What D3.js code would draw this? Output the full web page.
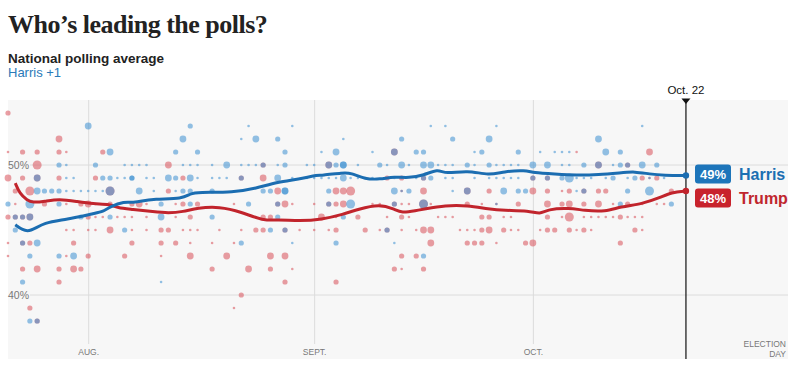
<!DOCTYPE html>
<html>
<head>
<meta charset="utf-8">
<script src="https://cdn.jsdelivr.net/npm/d3@7"></script>
<style>
  body { margin: 0; background: #fff; }
  text { font-family: "Liberation Sans", Arial, sans-serif; }
</style>
</head>
<body>
<svg></svg>
<script>
// days counted from July 21, 2024
const startDay = Date.UTC(2024, 6, 21);
const endDay = Date.UTC(2024, 10, 5);
const latestDay = 93; // Oct. 22

const monthTicks = [Date.UTC(2024, 7, 1), Date.UTC(2024, 8, 1), Date.UTC(2024, 9, 1)];
const monthLabels = ['AUG.', 'SEPT.', 'OCT.'];
const pctTicks = [50, 40];

// polls: [day, pct, weight] weight 0 tiny .. 3 large
const harrisPolls = [
  [11,53,2],[25,53,1],[24,52,2],[14,51,2],[23,51,1],[26,51,1],
  [7,50,1],[8,50,0],[12,50,1],[16,50,0],[17,50,0],[18,50,0],[19,50,0],[24,50,0],[25,50,0],[26,50,0],
  [4,49,2],[8,49,0],[9,49,0],[13,49,1],[14,49,1],[15,49,0],[16,49,0],[17,49,1],[17,49,1],[19,49,0],[20,49,0],[22,49,2],[23,49,1],[25,49,2],[26,49,0],
  [4,48,2],[5,48,1],[6,48,1],[7,48,1],[8,48,0],[9,48,0],[10,48,0],[11,48,0],[12,48,0],[13,48,0],[14,48,3],[18,48,2],[20,48,0],[23,48,0],[24,48,1],[25,48,1],
  [0,47,1],[3,47,3],[7,47,1],[21,47,1],[25,47,1],
  [1,46,1],[2,46,1],[3,46,2],[10,46,1],[14,46,1],[21,46,2],
  [1,45,1],[16,45,1],[2,44,1],[4,44,2],[3,43,1],[7,43,1],[9,43,2],[2,41,1],[21,41,0],[3,38,1],[4,38,1],
  [33,53,0],[39,53,0],[32,52,0],[34,52,2],[37,52,1],[46,52,0],[54,52,1],
  [38,51,1],[43,51,0],[45,51,2],[50,51,0],[53,51,2],[56,51,1],
  [28,50,0],[30,50,2],[32,50,0],[33,50,0],[34,50,0],[35,50,1],[37,50,0],[38,50,1],[41,50,0],[42,50,0],[44,50,2],[45,50,1],[46,50,2],[46,50,2],[48,50,0],[51,50,1],[52,50,0],[54,50,2],[55,50,0],
  [28,49,0],[29,49,0],[30,49,0],[32,49,1],[37,49,2],[39,49,0],[41,49,0],[42,49,0],[43,49,0],[44,49,0],[45,49,0],[46,49,2],[47,49,0],[48,49,0],[49,49,0],[50,49,0],[53,49,0],[56,49,0],
  [28,48,1],[35,48,1],[36,48,1],[38,48,2],[38,48,2],[44,48,1],[53,48,2],[54,48,0],[55,48,1],
  [33,47,1],[37,47,1],[44,47,1],[47,47,3],[53,47,1],
  [28,46,1],[37,46,1],[46,46,1],[36,45,1],[38,45,1],[52,45,1],
  [32,44,1],[39,44,0],[45,44,1],[53,44,0],[57,43,1],
  [58,53,0],[60,53,0],[67,53,0],[61,52,1],[66,52,2],[81,52,2],
  [57,51,1],[64,51,0],[65,51,1],[70,51,1],[73,51,0],[75,51,0],[76,51,0],[77,51,0],[82,51,2],
  [57,50,2],[58,50,2],[59,50,0],[60,50,0],[61,50,0],[63,50,1],[64,50,0],[66,50,1],[67,50,0],[68,50,0],[69,50,0],[70,50,0],[72,50,2],[74,50,2],[76,50,0],[77,50,0],[79,50,1],[81,50,2],[83,50,0],
  [54,49,0],[57,49,1],[58,49,1],[60,49,0],[61,49,0],[64,49,0],[66,49,0],[67,49,0],[68,49,0],[69,49,0],[70,49,0],[72,49,1],[74,49,1],[76,49,1],[77,49,3],[78,49,0],[79,49,0],[80,49,0],[82,49,0],[83,49,1],
  [61,48,0],[63,48,2],[68,48,2],[70,48,1],[71,48,1],[78,48,0],[79,48,1],[57,47,3],[67,47,0],
  [87,53,0],[84,51,1],[84,50,1],[85,50,1],[87,50,2],[89,50,1],
  [85,49,0],[86,49,1],[88,49,0],[90,49,0],[85,48,1],[88,48,3],[84,47,1],[91,47,1]
];

const trumpPolls = [
  [0,54,1],[7,52,2],[0,51,0],[2,51,1],[4,51,1],[7,51,1],[8,51,0],[13,51,1],
  [4,50,3],[22,50,2],
  [0,49,2],[2,49,1],[4,49,2],[7,49,1],[12,49,1],[24,49,1],
  [1,48,1],[3,48,3],[14,48,3],[22,48,1],
  [1,47,0],[5,47,1],[8,47,0],[10,47,1],[11,47,2],[12,47,0],[14,47,1],[15,47,0],[17,47,1],[18,47,2],[19,47,0],[23,47,0],[24,47,1],[26,47,1],
  [0,46,1],[1,46,1],[2,46,1],[3,46,2],[11,46,1],[12,46,0],[13,46,0],[15,46,0],[16,46,0],[17,46,0],[19,46,0],[23,46,0],[25,46,1],
  [8,45,0],[9,45,0],[11,45,0],[12,45,0],[14,45,2],[17,45,0],[19,45,0],[21,45,1],[22,45,1],[24,45,0],[25,45,0],
  [0,44,0],[2,44,1],[3,44,1],[9,44,1],[17,44,1],[21,44,1],[23,44,1],[25,44,0],
  [0,43,0],[8,43,0],[11,43,1],[16,43,1],[21,43,0],[25,43,2],
  [2,42,1],[4,42,2],[7,42,1],[9,42,2],[10,42,1],[7,41,1],[3,39,1],[4,38,1],
  [53,51,2],[35,50,1],[44,50,2],[32,49,1],[35,49,2],[52,49,1],[54,49,1],
  [37,48,2],[45,48,2],[46,48,2],[47,48,3],
  [31,47,0],[37,47,1],[38,47,2],[39,47,0],[42,47,0],[44,47,1],[45,47,1],[46,47,2],[50,47,0],[51,47,0],[53,47,1],[55,47,0],
  [34,46,0],[35,46,1],[36,46,1],[43,46,2],[45,46,0],[48,46,1],[52,46,0],[55,46,0],
  [26,45,0],[29,45,0],[32,45,0],[34,45,1],[35,45,1],[38,45,1],[40,45,0],[42,45,0],[44,45,0],[45,45,1],[49,45,1],[51,45,0],[52,45,1],[54,45,0],[56,45,0],
  [28,44,0],[31,44,0],[58,44,2],[63,44,1],[64,44,1],[65,44,1],[67,44,0],[71,44,1],[72,44,2],
  [30,43,2],[36,43,2],[38,43,2],[54,43,1],[56,43,1],
  [28,42,1],[33,42,2],[36,42,1],[39,42,0],[53,42,1],[54,42,0],[57,42,1],
  [38,41,1],[45,41,1],[32,40,1],[31,39,0],
  [78,51,0],[81,50,2],[57,49,1],[72,49,1],[74,49,1],
  [54,48,0],[57,48,2],[63,48,2],[66,48,1],[72,48,2],[74,48,1],[76,48,0],[77,48,1],[79,48,1],[81,48,1],[82,48,1],
  [54,47,0],[57,47,3],[58,47,0],[63,47,1],[65,47,0],[67,47,0],[70,47,1],[74,47,2],[76,47,1],[77,47,2],[79,47,1],[81,47,2],[83,47,0],
  [54,46,1],[59,46,0],[60,46,0],[61,46,0],[65,46,1],[66,46,1],[68,46,0],[69,46,0],[74,46,1],[76,46,0],[77,46,3],[79,46,0],[80,46,0],[83,46,0],
  [57,45,2],[58,45,2],[62,45,0],[63,45,0],[64,45,0],[65,45,1],[66,45,2],[68,45,1],[69,45,0],[70,45,0],[73,45,0],[74,45,1],[75,45,1],[77,45,1],[78,45,0],[79,45,1],[80,45,0],
  [88,51,2],[85,50,1],[87,49,1],[88,49,0],[89,49,1],[91,48,1],
  [85,47,1],[87,47,0],[89,47,0],[90,47,0],
  [81,46,0],[82,46,0],[84,46,1],[85,46,0],[86,46,0],[87,46,0],[86,45,1],[87,45,0],[84,44,1]
];

// polling averages: [day, pct]
const harrisAvg = [
  [1,45.4],[2,45.0],[3,44.85],[5,45.6],[8,45.8],[12,46.3],[13,46.4],[14,46.8],[16,47.2],[17,47.1],[18,47.2],
  [20,47.4],[24,47.4],[25,47.8],[26,47.9],[31,47.9],[34,48.2],[37,48.7],[40,48.9],[42,49.2],[43,49.2],
  [46,49.4],[47,49.4],[49,48.9],[51,48.9],[53,49.1],[55,49.0],[57,49.2],[59,49.7],[60,49.3],[63,49.6],
  [66,49.2],[68,49.5],[71,49.6],[72,49.4],[75,49.3],[78,49.2],[81,49.25],[84,49.4],[86,49.5],[88,49.3],
  [90,49.2],[93,49.2]
];
const trumpAvg = [
  [1,48.6],[1.6,47.8],[2.6,47.3],[3.4,47.1],[5,47.2],[7,47.4],[9.4,47.2],[11.7,47.0],[14,47.0],[15,46.7],
  [17,46.6],[20,46.4],[22,46.3],[24,46.4],[26,46.7],[29,46.8],[32,46.4],[35,45.7],[37,45.8],[40,45.7],
  [43,45.8],[46,46.2],[48,46.6],[51,47.0],[53,46.6],[54,46.3],[56,46.5],[57,46.6],[60,46.9],[63,46.9],
  [66,46.6],[68,46.5],[71.5,46.5],[73,46.2],[74,46.6],[77,46.7],[79,46.5],[82,46.4],[84,46.8],[87,47.0],
  [89.5,47.5],[91,47.9],[93,48.0]
];
const harrisLatest = '49%';
const trumpLatest = '48%';

const svg = d3.select('svg')
  .attr('width', 800)
  .attr('height', 375);

const dayDate = d => new Date(startDay + d * 864e5);

const render = () => {
  const plot = { left: 8, right: 788, top: 100, bottom: 359 },
    radius = [1.3, 2.6, 3.4, 4.5],
    blue = '#3d8fd1', red = '#d9505a',
    blueLine = '#1b6db1', redLine = '#c1242c';

  const xScale = d3.scaleUtc()
    .domain([startDay, endDay])
    .range([plot.left, plot.right]);

  const yScale = d3.scaleLinear()
    .domain([35, 55])
    .range([360, 100]);

  // titles
  svg.append('text')
    .attr('x', 8).attr('y', 33)
    .style('font-family', '"Liberation Serif", "Times New Roman", serif')
    .style('font-weight', 'bold')
    .style('font-size', '26px')
    .style('letter-spacing', '-0.5px')
    .attr('fill', '#222')
    .text('Who’s leading the polls?');

  svg.append('text')
    .attr('x', 8).attr('y', 63)
    .style('font-weight', 'bold')
    .style('font-size', '13.5px')
    .attr('fill', '#222')
    .text('National polling average');

  svg.append('text')
    .attr('x', 8).attr('y', 77)
    .style('font-size', '13px')
    .attr('fill', '#2b7ab8')
    .text('Harris +1');

  svg.append('rect')
    .attr('x', plot.left).attr('y', plot.top)
    .attr('width', plot.right - plot.left)
    .attr('height', plot.bottom - plot.top)
    .attr('fill', '#f7f7f7');

  // horizontal grid
  svg.append('g').selectAll('line').data(pctTicks).join('line')
    .attr('x1', 30).attr('x2', plot.right)
    .attr('y1', d => yScale(d)).attr('y2', d => yScale(d))
    .attr('stroke', '#dcdcdc');

  const yAxis = d3.axisRight(yScale)
    .tickValues(pctTicks)
    .tickSize(0)
    .tickPadding(0)
    .tickFormat(d => d + '%');

  const yAxisG = svg.append('g')
    .attr('transform', `translate(${plot.left},0)`)
    .call(yAxis);
  yAxisG.select('.domain').remove();
  yAxisG.selectAll('text')
    .attr('fill', '#777')
    .style('font-size', '10.5px');

  const xAxis = d3.axisBottom(xScale)
    .tickValues(monthTicks)
    .tickSize(-(344 - plot.top))
    .tickPadding(5)
    .tickFormat((d, i) => monthLabels[i]);

  const xAxisG = svg.append('g')
    .attr('transform', 'translate(0,344)')
    .call(xAxis);
  xAxisG.select('.domain').remove();
  xAxisG.selectAll('line').attr('stroke', '#dcdcdc');
  xAxisG.selectAll('text')
    .attr('fill', '#777')
    .style('font-size', '8.5px');

  svg.append('text')
    .attr('x', 786).attr('y', 347)
    .attr('text-anchor', 'end')
    .attr('fill', '#777')
    .style('font-size', '8.5px')
    .selectAll('tspan').data(['ELECTION', 'DAY']).join('tspan')
    .attr('x', 786)
    .attr('dy', (d, i) => i ? 10 : 0)
    .text(d => d);

  // poll dots
  const drawDots = (data, color) => svg.append('g')
    .selectAll('circle').data(data).join('circle')
    .attr('cx', d => xScale(dayDate(d[0])))
    .attr('cy', d => yScale(d[1]))
    .attr('r', d => radius[d[2]])
    .attr('fill', color)
    .attr('fill-opacity', 0.55);

  drawDots(trumpPolls, red);
  drawDots(harrisPolls, blue);

  // latest marker
  const xLatest = xScale(dayDate(latestDay));
  svg.append('line')
    .attr('x1', xLatest).attr('x2', xLatest)
    .attr('y1', plot.top).attr('y2', plot.bottom)
    .attr('stroke', '#111').attr('stroke-width', 1.2);
  svg.append('path')
    .attr('d', `M${xLatest - 4.5},98.5 L${xLatest + 4.5},98.5 L${xLatest},104 Z`)
    .attr('fill', '#111');
  svg.append('text')
    .attr('x', xLatest).attr('y', 94)
    .attr('text-anchor', 'middle')
    .style('font-size', '11.5px')
    .attr('fill', '#111')
    .text('Oct. 22');

  // averages
  const lineGenerator = d3.line()
    .x(d => xScale(dayDate(d[0])))
    .y(d => yScale(d[1]))
    .curve(d3.curveBasis);

  [[trumpAvg, redLine], [harrisAvg, blueLine]].forEach(([data, color]) => {
    svg.append('path')
      .attr('d', lineGenerator(data))
      .attr('fill', 'none')
      .attr('stroke', color)
      .attr('stroke-width', 3)
      .attr('stroke-linejoin', 'round');
    const last = data[data.length - 1];
    svg.append('circle')
      .attr('cx', xScale(dayDate(last[0])))
      .attr('cy', yScale(last[1]))
      .attr('r', 3.2)
      .attr('fill', color);
  });

  // end labels
  let hY = yScale(harrisAvg[harrisAvg.length - 1][1]) - 1.5;
  let tY = Math.max(yScale(trumpAvg[trumpAvg.length - 1][1]), hY + 24);
  const labels = [
    { y: hY, pct: harrisLatest, name: 'Harris', box: '#1d75ba', color: '#1b6fb2' },
    { y: tY, pct: trumpLatest, name: 'Trump', box: '#c8232c', color: '#c0262e' }
  ];
  const lg = svg.append('g').selectAll('g').data(labels).join('g')
    .attr('transform', d => `translate(695,${d.y})`);
  lg.append('rect')
    .attr('x', 0).attr('y', -9.5)
    .attr('width', 36).attr('height', 19)
    .attr('rx', 3)
    .attr('fill', d => d.box);
  lg.append('text')
    .attr('x', 18).attr('y', 5)
    .attr('text-anchor', 'middle')
    .attr('fill', '#fff')
    .style('font-weight', 'bold')
    .style('font-size', '13px')
    .text(d => d.pct);
  lg.append('text')
    .attr('x', 44).attr('y', 6)
    .attr('fill', d => d.color)
    .style('font-weight', 'bold')
    .style('font-size', '16px')
    .text(d => d.name);
};

render();
</script>
</body>
</html>
